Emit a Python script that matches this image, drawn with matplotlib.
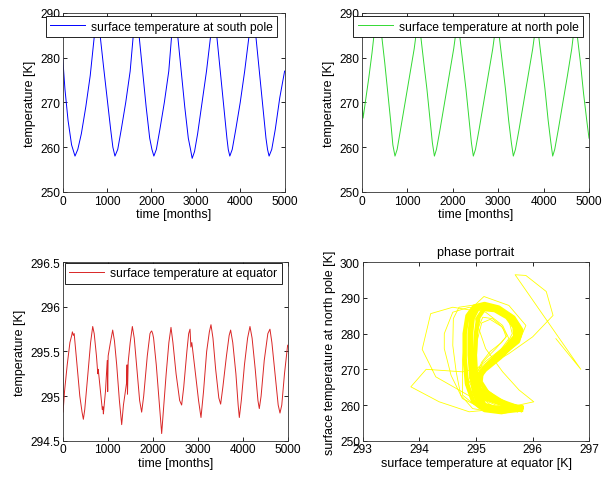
import numpy as np
import matplotlib
matplotlib.use('Agg')
import matplotlib.pyplot as plt

plt.rcParams['font.family'] = ['Liberation Sans', 'DejaVu Sans']
plt.rcParams['font.size'] = 9

# ---- time series (months, kelvin) ----
south_t = [0, 50, 120, 200, 277, 340, 420, 520, 620, 714, 760, 778, 800, 843, 920, 1000, 1080, 1130, 1177,
           1240, 1320, 1420, 1520, 1590, 1630, 1650, 1675, 1720, 1800, 1880, 1960, 2010, 2054,
           2110, 2190, 2290, 2390, 2455, 2500, 2520, 2545, 2590, 2670, 2750, 2830, 2880, 2917,
           2970, 3040, 3140, 3240, 3335, 3380, 3400, 3425, 3470, 3550, 3630, 3700, 3730, 3765,
           3820, 3900, 4000, 4100, 4200, 4250, 4275, 4300, 4350, 4430, 4510, 4580, 4615, 4650,
           4710, 4790, 4890, 5000]
south_T = [280, 273, 266, 260.5, 258, 259.5, 263, 269, 276, 285, 288, 289, 288, 285, 278, 271, 264, 260, 258,
           259.5, 264, 270, 277, 285, 288, 289, 288, 285, 277, 269, 262, 259.5, 258,
           259.5, 264, 270, 277, 285, 288, 289, 288, 285, 277, 269, 262, 259.5, 257.5,
           259, 263, 270, 277, 285, 288, 289, 288, 285, 277, 269, 262, 259.5, 258,
           259.5, 264, 270, 277, 285, 288, 289, 288, 285, 277, 269, 262, 259.5, 258,
           259.5, 264, 271, 277]

north_t = [0, 25, 80, 150, 220, 264, 310, 352, 395, 433, 500, 570, 630, 680, 727,
           775, 850, 950, 1050, 1150, 1189, 1240, 1292, 1360, 1430, 1500, 1550, 1595,
           1640, 1720, 1820, 1920, 2020, 2060, 2100, 2150, 2220, 2290, 2360, 2410, 2452,
           2500, 2580, 2680, 2780, 2880, 2920, 2970, 3020, 3090, 3160, 3230, 3290, 3333,
           3380, 3460, 3560, 3660, 3760, 3800, 3843, 3890, 3960, 4030, 4100, 4160, 4200,
           4245, 4325, 4425, 4525, 4620, 4655, 4693, 4740, 4810, 4880, 4950, 5000]
north_T = [270, 266.5, 270.5, 275.5, 281, 285, 288, 289, 288, 285, 279, 272, 266, 260.5, 258,
           259.5, 264, 270, 276, 282, 285, 288.5, 285, 279, 273, 266, 261, 258,
           259.5, 264, 270, 276, 282, 285, 288.5, 285, 279, 273, 266, 261, 258,
           259.5, 264, 270, 276, 282, 285, 288.5, 285, 279, 273, 266, 261, 258,
           259.5, 264, 270, 276, 282, 285, 288.5, 285, 279, 273, 266, 261, 258,
           259.5, 264, 270, 276, 282, 285, 288.5, 285, 279, 272, 266, 262]

eq_t = [0, 8, 40, 100, 160, 200, 215, 237, 255, 300, 380, 430, 459, 490, 560, 620, 667, 700, 750, 780, 790,
        840, 880, 895, 904, 915, 950, 990, 1000, 1010, 1060, 1111, 1150, 1200, 1260, 1311, 1350, 1420,
        1430, 1440, 1455, 1500, 1548, 1590, 1650, 1710, 1755, 1800, 1880, 1940, 1960, 1978, 2000, 2020,
        2080, 2150, 2200, 2240, 2300, 2360, 2407, 2450, 2520, 2600, 2644, 2690, 2760, 2800, 2830, 2850,
        2870, 2940, 3020, 3074, 3130, 3200, 3260, 3296, 3340, 3400, 3470, 3511, 3560, 3640, 3700, 3733,
        3780, 3850, 3900, 3926, 3970, 4040, 4110, 4163, 4210, 4280, 4340, 4370, 4410, 4480, 4560, 4607,
        4650, 4720, 4790, 4830, 4870, 4930, 5000]
eq_T = [295.58, 294.82, 295.05, 295.35, 295.6, 295.68, 295.72, 295.68, 295.70, 295.45, 295.0, 294.82, 294.74,
        294.85, 295.25, 295.6, 295.78, 295.7, 295.45, 295.25, 295.3, 295.05, 294.85, 294.88, 294.80, 294.86,
        295.05, 295.40, 295.05, 295.45, 295.6, 295.74, 295.62, 295.35, 294.95, 294.68, 294.9, 295.15,
        295.35, 295.02, 295.38, 295.6, 295.78, 295.65, 295.3, 294.95, 294.82, 295.0, 295.45, 295.7, 295.72,
        295.73, 295.70, 295.65, 295.35, 294.9, 294.58, 294.85, 295.25, 295.6, 295.77, 295.6, 295.25, 294.95,
        294.90, 295.1, 295.5, 295.7, 295.75, 295.55, 295.6, 295.3, 294.95, 294.76, 295.05, 295.5, 295.72,
        295.80, 295.65, 295.3, 294.98, 294.91, 295.1, 295.45, 295.68, 295.74, 295.6, 295.25, 294.9, 294.76,
        294.95, 295.35, 295.65, 295.78, 295.65, 295.3, 294.95, 294.86, 295.0, 295.4, 295.7, 295.75,
        295.6, 295.25, 294.9, 294.81, 294.9, 295.25, 295.57]

# ---- phase portrait vertices (equator K, north pole K) ----
# dense band: centre, outer and inner passes
loopA_eq = [295.78, 295.50, 295.25, 295.06, 294.98, 294.93, 294.90, 294.90, 294.93, 295.02, 295.14, 295.35,
            295.60, 295.74, 295.76, 295.64, 295.42, 295.15, 295.02, 295.05, 295.25, 295.55, 295.78]
loopA_np = [258.9, 258.4, 258.8, 260.5, 263.5, 268.0, 274.0, 280.0, 284.5, 287.2, 287.8, 287.0,
            284.8, 282.0, 279.5, 277.0, 273.5, 270.0, 267.3, 264.5, 262.0, 260.2, 258.9]
loopB_eq = [295.80, 295.45, 295.15, 294.95, 294.84, 294.80, 294.80, 294.85, 294.97, 295.15, 295.40, 295.66,
            295.80, 295.74, 295.52, 295.25, 295.05, 294.95, 295.10, 295.45, 295.80]
loopB_np = [259.3, 258.0, 258.6, 261.0, 266.0, 273.0, 280.0, 285.0, 287.6, 288.3, 287.3, 284.5,
            281.0, 277.8, 275.0, 271.5, 268.5, 265.5, 262.3, 260.3, 259.3]
loopC_eq = [295.72, 295.40, 295.15, 295.05, 295.00, 294.98, 295.00, 295.04, 295.14, 295.33, 295.55, 295.68,
            295.69, 295.55, 295.32, 295.10, 295.08, 295.20, 295.45, 295.72]
loopC_np = [258.7, 258.9, 260.0, 263.0, 268.0, 274.0, 280.0, 284.5, 286.9, 286.6, 284.6, 281.8,
            279.2, 276.6, 273.2, 269.5, 266.5, 263.5, 261.0, 258.7]

# thinner, looser passes around the band
var1_eq = [295.76, 295.35, 294.94, 294.73, 294.65, 294.59, 294.60, 294.70, 295.00, 295.35, 295.58, 295.64,
           295.53, 295.23, 294.94, 294.82, 294.94, 295.35, 295.76]
var1_np = [258.6, 257.9, 259.0, 262.8, 269.3, 276.7, 284.2, 287.4, 288.1, 287.0, 283.7, 280.0,
           276.7, 273.0, 269.3, 265.6, 262.8, 260.0, 258.6]
var2_eq = [295.73, 295.23, 295.00, 294.94, 294.97, 295.03, 295.12, 295.29, 295.47, 295.53, 295.35, 295.12,
           295.03, 295.17, 295.47, 295.73]
var2_np = [259.0, 259.2, 261.8, 267.4, 273.9, 281.4, 284.6, 284.2, 281.8, 279.1, 275.8, 272.1,
           268.3, 264.6, 260.9, 259.0]
var3_eq = [295.70, 295.12, 294.76, 294.56, 294.44, 294.44, 294.59, 294.88, 295.17, 295.47, 295.58, 295.41,
           295.06, 294.88, 295.00, 295.35, 295.70]
var3_np = [260.0, 259.0, 261.8, 268.3, 275.8, 280.0, 286.0, 287.4, 286.0, 282.3, 278.6, 274.9,
           270.2, 266.5, 263.2, 260.9, 260.0]
var4_eq = [295.70, 295.30, 295.10, 295.00, 295.02, 295.10, 295.25, 295.45, 295.55, 295.45, 295.25, 295.10,
           295.00, 295.10, 295.40, 295.70]
var4_np = [259.5, 259.5, 262.0, 270.0, 278.0, 283.0, 284.0, 282.0, 279.5, 277.5, 275.0, 272.0,
           268.0, 264.0, 261.0, 259.5]

trans_eq = [296.41, 296.85, 295.69, 295.88, 296.24, 296.36, 296.00, 295.58, 295.23, 294.76, 294.12, 293.85,
            294.35, 294.88, 295.47, 296.02, 295.76, 295.47, 295.17, 295.03, 294.94, 294.59, 294.20, 294.05,
            294.29, 294.70, 295.12, 295.76, 295.06, 294.76, 294.76, 294.82, 294.94, 295.14, 295.58, 295.88,
            295.76, 295.47, 295.12, 295.00, 295.23, 295.79]
trans_np = [278.6, 270.0, 296.5, 296.3, 291.8, 285.1, 279.1, 274.4, 271.1, 269.3, 270.0, 265.1,
            260.9, 258.1, 259.0, 260.9, 264.2, 269.3, 275.8, 282.3, 286.5, 287.4, 285.6, 275.6,
            267.9, 264.2, 260.4, 258.6, 259.0, 262.8, 272.1, 281.4, 287.4, 290.4, 287.9, 282.3,
            277.7, 273.9, 270.2, 266.5, 261.8, 259.0]

YEL = (1.0, 1.0, 0.0)
FRAME = '#333333'


def style(ax):
    ax.tick_params(direction='in', length=3, width=0.6, top=True, right=True, colors='black',
                   labelsize=8.6, pad=2)
    for sp in ax.spines.values():
        sp.set_color(FRAME)
        sp.set_linewidth(0.6)


def legend(ax, fig, x0, y1):
    leg = ax.legend(loc='upper left', bbox_to_anchor=(x0, y1), bbox_transform=fig.transFigure,
                    borderaxespad=0, frameon=True, fancybox=False, handlelength=2.9,
                    handletextpad=0.5, borderpad=0.35, fontsize=8.7, framealpha=1)
    leg.get_frame().set_edgecolor('black')
    leg.get_frame().set_linewidth(0.6)


fig = plt.figure(figsize=(6.03, 4.81), dpi=100)

ax1 = fig.add_axes([0.104, 0.599, 0.368, 0.372])
ax1.plot(south_t, south_T, color='b', lw=0.7, label='surface temperature at south pole')
ax1.set_xlim(0, 5000)
ax1.set_ylim(250, 290)
ax1.set_xticks(range(0, 5001, 1000))
ax1.set_yticks(range(250, 291, 10))
ax1.set_xlabel('time [months]', labelpad=1)
ax1.set_ylabel('temperature [K]', labelpad=3)
style(ax1)
legend(ax1, fig, 0.0758, 0.964)

ax2 = fig.add_axes([0.6003, 0.599, 0.3765, 0.372])
ax2.plot(north_t, north_T, color=(0.2, 0.85, 0.2), lw=0.7, label='surface temperature at north pole')
ax2.set_xlim(0, 5000)
ax2.set_ylim(250, 290)
ax2.set_xticks(range(0, 5001, 1000))
ax2.set_yticks(range(250, 291, 10))
ax2.set_xlabel('time [months]', labelpad=1)
ax2.set_ylabel('temperature [K]', labelpad=3)
style(ax2)
legend(ax2, fig, 0.586, 0.964)

ax3 = fig.add_axes([0.104, 0.0817, 0.373, 0.371])
ax3.plot(eq_t, eq_T, color=(0.85, 0.15, 0.15), lw=0.7, label='surface temperature at equator')
ax3.set_xlim(0, 5000)
ax3.set_ylim(294.5, 296.5)
ax3.set_xticks(range(0, 5001, 1000))
ax3.set_yticks([294.5, 295, 295.5, 296, 296.5])
ax3.set_yticklabels(['294.5', '295', '295.5', '296', '296.5'])
ax3.set_xlabel('time [months]', labelpad=1)
ax3.set_ylabel('temperature [K]', labelpad=3)
style(ax3)
legend(ax3, fig, 0.108, 0.451)

ax4 = fig.add_axes([0.6015, 0.0817, 0.3758, 0.371])
ax4.plot(trans_eq, trans_np, color=YEL, lw=0.6)
for xs, ys in [(var3_eq, var3_np), (var1_eq, var1_np), (var2_eq, var2_np), (var4_eq, var4_np)]:
    ax4.plot(xs, ys, color=YEL, lw=0.6)
ax4.plot(loopB_eq, loopB_np, color=YEL, lw=3.2, solid_joinstyle='round')
ax4.plot(loopC_eq, loopC_np, color=YEL, lw=3.2, solid_joinstyle='round')
ax4.plot(loopA_eq, loopA_np, color=YEL, lw=4.2, solid_joinstyle='round')
ax4.set_xlim(293, 297)
ax4.set_ylim(250, 300)
ax4.set_xticks(range(293, 298))
ax4.set_yticks(range(250, 301, 10))
ax4.set_xlabel('surface temperature at equator [K]', labelpad=1)
ax4.set_ylabel('surface temperature at north pole [K]', labelpad=3)
ax4.set_title('phase portrait', fontsize=9, pad=5)
style(ax4)

fig.savefig('out.png', dpi=100)
